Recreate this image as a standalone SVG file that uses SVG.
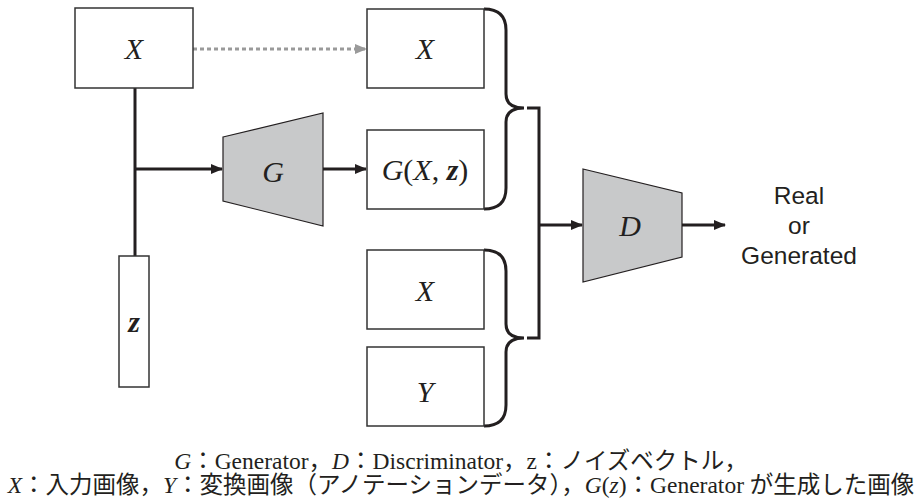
<svg xmlns="http://www.w3.org/2000/svg" width="923" height="503" viewBox="0 0 923 503">
<style>
.box{fill:#fff;stroke:#333;stroke-width:1.5}
.trap{fill:#c8c9ca;stroke:#231f20;stroke-width:1.2}
.lbl{font-family:"Liberation Serif","Times New Roman",serif;font-style:italic;font-size:30px;fill:#231f20;text-anchor:middle}
.up{font-style:normal}
.bz{font-weight:bold}
.conn{fill:none;stroke:#231f20;stroke-width:3}
.dot{fill:none;stroke:#9a9a9a;stroke-width:3;stroke-dasharray:4 3}
.out{font-family:"Liberation Sans",Arial,sans-serif;font-size:24.5px;fill:#231f20;text-anchor:middle}
.cap{font-family:"Liberation Serif","Noto Sans CJK JP",serif;font-size:23.5px;fill:#231f20;text-anchor:middle}
.i{font-style:italic}
</style>
<defs>
<marker id="ah" markerWidth="12" markerHeight="10" refX="11" refY="5" orient="auto" markerUnits="userSpaceOnUse">
<path d="M0,0 L12,5 L0,10 Z" fill="#231f20"/>
</marker>
<marker id="ahg" markerWidth="12" markerHeight="10" refX="11" refY="5" orient="auto" markerUnits="userSpaceOnUse">
<path d="M0,0 L12,5 L0,10 Z" fill="#9a9a9a"/>
</marker>
</defs>

<g id="connectors">
<path class="dot" d="M193,49 L366,49" marker-end="url(#ahg)"/>
<path class="conn" d="M135,88 L135,256"/>
<path class="conn" d="M135,169 L222,169" marker-end="url(#ah)"/>
<path class="conn" d="M323,169 L366,169" marker-end="url(#ah)"/>
<path class="conn" d="M484,9 Q506,9 506,30 L506,94 Q506,108 524,108 Q506,108 506,122 L506,188 Q506,209 484,209"/>
<path class="conn" d="M484,250 Q506,250 506,271 L506,324 Q506,338 524,338 Q506,338 506,352 L506,405 Q506,426 484,426"/>
<path class="conn" d="M527,108 L539,108 L539,338 L527,338"/>
<path class="conn" d="M539,225 L582,225" marker-end="url(#ah)"/>
<path class="conn" d="M682,225 L725,225" marker-end="url(#ah)"/>
</g>

<g id="node-X-in">
<rect class="box" x="75" y="8" width="118" height="80"/>
<text class="lbl" x="134" y="59">X</text>
</g>
<g id="node-z">
<rect class="box" x="119" y="256" width="30" height="131"/>
<text class="lbl bz" x="134" y="332">z</text>
</g>
<g id="node-G">
<polygon class="trap" points="223,137 323,113 323,226 223,201"/>
<text class="lbl" x="273" y="182">G</text>
</g>
<g id="node-X-top">
<rect class="box" x="367" y="9" width="117" height="79"/>
<text class="lbl" x="425" y="59">X</text>
</g>
<g id="node-GXz">
<rect class="box" x="367" y="130" width="117" height="79"/>
<text class="lbl" x="425" y="180">G<tspan class="up">(</tspan>X<tspan class="up">, </tspan><tspan class="bz">z</tspan><tspan class="up">)</tspan></text>
</g>
<g id="node-X-low">
<rect class="box" x="367" y="250" width="117" height="79"/>
<text class="lbl" x="425" y="301">X</text>
</g>
<g id="node-Y">
<rect class="box" x="367" y="347" width="117" height="79"/>
<text class="lbl" x="425" y="402">Y</text>
</g>
<g id="node-D">
<polygon class="trap" points="583,169 682,193 682,257 583,282"/>
<text class="lbl" x="630" y="236">D</text>
</g>
<g id="node-output">
<text class="out" x="799" y="204">Real</text>
<text class="out" x="799" y="234">or</text>
<text class="out" x="799" y="264">Generated</text>
</g>

<g id="caption">
<text class="cap" x="461" y="469"><tspan class="i">G</tspan>：Generator，<tspan class="i">D</tspan>：Discriminator，z：ノイズベクトル，</text>
<text class="cap" x="461" y="493"><tspan class="i">X</tspan>：入力画像，<tspan class="i">Y</tspan>：変換画像（アノテーションデータ），<tspan class="i">G</tspan>(<tspan class="i">z</tspan>)：Generator が生成した画像</text>
</g>
</svg>
